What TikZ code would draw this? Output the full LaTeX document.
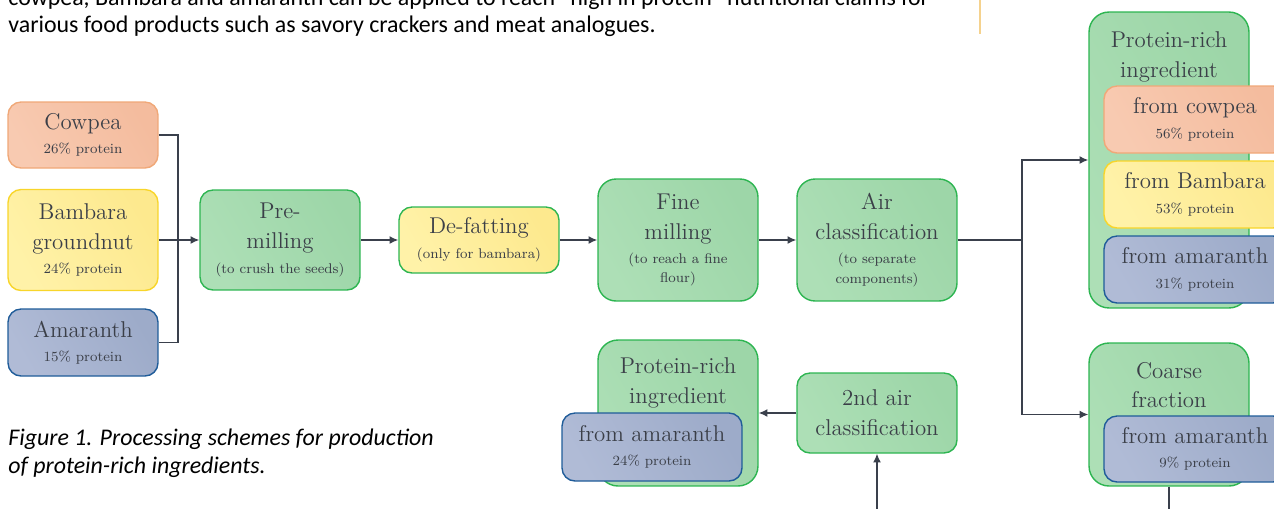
\documentclass[tikz,border=0pt]{standalone}
\usepackage{fontspec}
\usepackage{tikz}
\usetikzlibrary{arrows.meta}
\newfontfamily\bodyfont{Carlito}
\definecolor{txtgray}{HTML}{3B3F48}
\definecolor{linegray}{HTML}{3A404C}
\definecolor{orangeA}{HTML}{F8CAB1}
\definecolor{orangeB}{HTML}{F4BC9E}
\definecolor{orangeline}{HTML}{F0A878}
\definecolor{yellowA}{HTML}{FFF2A8}
\definecolor{yellowB}{HTML}{FDE98E}
\definecolor{yellowline}{HTML}{F8D52A}
\definecolor{blueA}{HTML}{B0BBD6}
\definecolor{blueB}{HTML}{9DABC9}
\definecolor{blueline}{HTML}{1F5C99}
\definecolor{greenA}{HTML}{ADDFB6}
\definecolor{greenB}{HTML}{9DD6A8}
\definecolor{greenline}{HTML}{2DB551}
\definecolor{ruleyellow}{HTML}{F5D28E}
\newcommand{\mainsz}{\fontsize{13}{17}\selectfont}
\newcommand{\subsz}{\fontsize{8}{11}\selectfont}
\newcommand{\bodysz}{\fontsize{13.6}{16}\selectfont}
\tikzset{
  box/.style={rectangle, rounded corners=0.26cm, line width=0.8pt, text=txtgray,
    align=center, inner sep=0pt, minimum width=3cm, font=\mainsz},
  orangebox/.style={box, draw=orangeline, left color=orangeA, right color=orangeB, shading angle=120},
  yellowbox/.style={box, draw=yellowline, left color=yellowA, right color=yellowB, shading angle=120},
  bluebox/.style={box, draw=blueline, left color=blueA, right color=blueB, shading angle=120},
  greenbox/.style={box, draw=greenline, left color=greenA, right color=greenB, shading angle=120, minimum width=3.2cm},
  title/.style={text=txtgray, align=center, inner sep=0pt, font=\mainsz},
  link/.style={draw=linegray, line width=0.75pt},
  arrow/.style={link, -{Latex[length=5pt,width=4.5pt]}},
}

\begin{document}
\begin{tikzpicture}[x=0.02cm, y=-0.02cm]
\useasboundingbox (0,0) rectangle (1274,508);
\clip (0,0) rectangle (1274,508);

% running text of the page
\node[anchor=base west, inner sep=0pt] (textA) at (8,5) {\bodyfont\bodysz cowpea, Bambara and amaranth can be applied to reach “high in protein” nutritional claims for};
\node[anchor=base west, inner sep=0pt] (textB) at (8,32) {\bodyfont\bodysz various food products such as savory crackers and meat analogues.};
\draw[ruleyellow, line width=0.6pt] (980,0) -- (980,34);

% raw seeds
\node[orangebox, minimum height=1.32cm] (cowpea) at (83,135) {Cowpea\\[-3pt] \subsz 26\% protein};
\node[yellowbox, minimum height=2.02cm] (bambara) at (83,240) {Bambara\\ groundnut\\[-3pt] \subsz 24\% protein};
\node[bluebox, minimum height=1.34cm] (amaranth) at (83,342.5) {Amaranth\\[-3pt] \subsz 15\% protein};

% processing steps
\node[greenbox, minimum height=2cm] (premill) at (280,240) {Pre-\\ milling\\[-3pt] \subsz (to crush the seeds)};
\node[yellowbox, draw=greenline, minimum width=3.2cm, minimum height=1.32cm] (defat) at (479,240) {De-fatting\\[-3pt] \subsz (only for bambara)};
\node[greenbox, rounded corners=0.36cm, minimum height=2.44cm] (finemill) at (678,240) {Fine\\ milling\\[-3pt] \subsz (to reach a fine\\[-6pt] \subsz flour)};
\node[greenbox, rounded corners=0.36cm, minimum height=2.44cm] (aircl) at (877,240) {Air\\ classification\\[-3pt] \subsz (to separate\\[-6pt] \subsz components)};
\node[greenbox, minimum height=1.6cm] (aircltwo) at (877,413) {2nd air\\ classification};

% protein-rich fractions
\node[greenbox, rounded corners=0.4cm, minimum height=5.92cm] (richtop) at (1169,160) {};
\node[title] (richtoptitle) at (1169,57) {Protein-rich\\ ingredient};
\node[orangebox, minimum width=3.64cm, minimum height=1.34cm] (richcowpea) at (1195,119.5) {from cowpea\\[-3pt] \subsz 56\% protein};
\node[yellowbox, minimum width=3.64cm, minimum height=1.34cm] (richbambara) at (1195,194.5) {from Bambara\\[-3pt] \subsz 53\% protein};
\node[bluebox, minimum width=3.64cm, minimum height=1.34cm] (richamaranth) at (1195,269.5) {from amaranth\\[-3pt] \subsz 31\% protein};

\node[greenbox, rounded corners=0.4cm, minimum height=2.86cm] (coarse) at (1169,414.5) {};
\node[title] (coarsetitle) at (1169,385) {Coarse\\ fraction};
\node[bluebox, minimum width=3.64cm, minimum height=1.32cm] (coarseamaranth) at (1195,449) {from amaranth\\[-3pt] \subsz 9\% protein};

\node[greenbox, rounded corners=0.4cm, minimum height=2.92cm] (richlow) at (678,413) {};
\node[title] (richlowtitle) at (678,383) {Protein-rich\\ ingredient};
\node[bluebox, minimum width=3.6cm, minimum height=1.36cm] (richlowamaranth) at (652,447) {from amaranth\\[-3pt] \subsz 24\% protein};

% connectors
\coordinate (join) at (178,240);
\coordinate (split) at (1022,240);
\coordinate (coarseout) at (1169,512);
\coordinate (aircltwoin) at (877,512);
\draw[link] (cowpea.east) -| (join);
\draw[link] (amaranth.east) -| (join);
\draw[arrow] (bambara.east) -- (premill.west);
\draw[arrow] (premill.east) -- (defat.west);
\draw[arrow] (defat.east) -- (finemill.west);
\draw[arrow] (finemill.east) -- (aircl.west);
\draw[link] (aircl.east) -- (split);
\draw[arrow] (split) |- (richtop.west);
\draw[arrow] (split) |- (coarse.west);
\draw[arrow] (aircltwo.west) -- (richlow.east);
\draw[arrow] (aircltwoin) -- (aircltwo.south);
\draw[link] (coarse.south) -- (coarseout);

% caption
\node[anchor=base west, inner sep=0pt] (caption) at (8,445) {\bodyfont\itshape\bodysz Figure 1. Processing schemes for production};
\node[anchor=base west, inner sep=0pt] (captionB) at (8,473) {\bodyfont\itshape\bodysz of protein-rich ingredients.};
\end{tikzpicture}
\end{document}
